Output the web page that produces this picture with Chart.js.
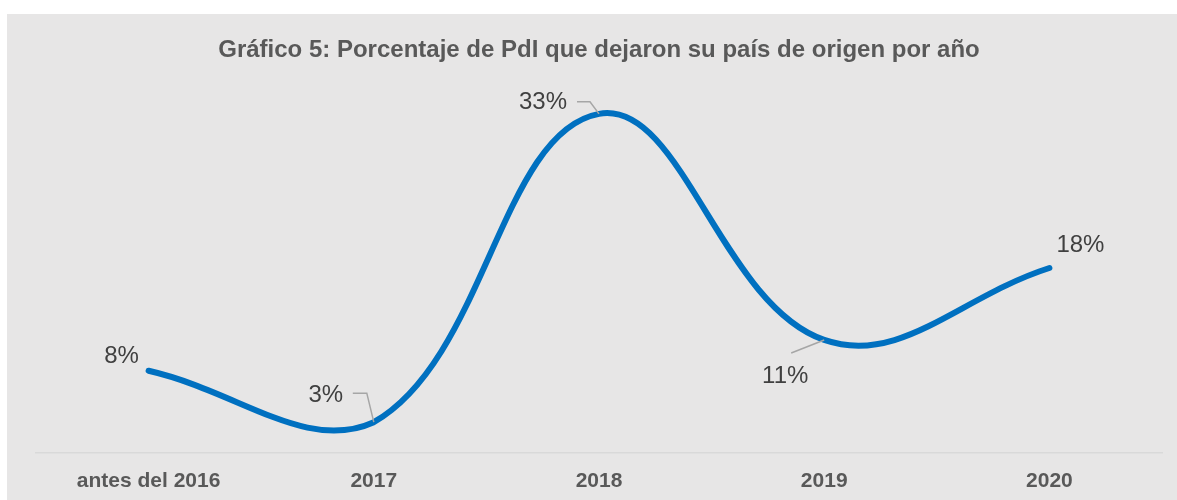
<!DOCTYPE html>
<html>
<head>
<meta charset="utf-8">
<script src="https://cdn.jsdelivr.net/npm/chart.js@4"></script>
<style>
  body { margin: 0; background: #ffffff; }
  #box { position: absolute; left: 7px; top: 14px; width: 1170px; height: 486px; background: #e7e6e6; }
  canvas { display: block; }
</style>
</head>
<body>
<div id="box"><canvas id="chart" width="1170" height="486"></canvas></div>
<script>
// Chart data
const categories = ['antes del 2016', '2017', '2018', '2019', '2020'];
const percentages = [8, 3, 33, 11, 18];
const valueLabels = ['8%', '3%', '33%', '11%', '18%'];

// label offsets from the point, and optional leader lines (px)
const labelOffsets = [[-27, -14], [-48, -27], [-56, -11], [-39, 36], [31, -23]];
const leaders = [null, [[-21, -29], [-7, -29], [0, 0]], [[-22, -12], [-9, -12], [0, 0]], [[-33, 13], [0, 0]], null];

const dataLabels = {
    id: 'dataLabels',
    afterDatasetsDraw(chart) {
        const ctx = chart.ctx;
        const pts = chart.getDatasetMeta(0).data;
        ctx.save();
        pts.forEach((p, i) => {
            const lead = leaders[i];
            if (lead) {
                ctx.strokeStyle = '#a6a6a6';
                ctx.lineWidth = 1.5;
                ctx.beginPath();
                lead.forEach(([dx, dy], k) => {
                    if (k === 0) ctx.moveTo(p.x + dx, p.y + dy);
                    else ctx.lineTo(p.x + dx, p.y + dy);
                });
                ctx.stroke();
            }
            ctx.fillStyle = '#404040';
            ctx.font = '24px "Liberation Sans", Arial, sans-serif';
            ctx.textAlign = 'center';
            ctx.textBaseline = 'middle';
            ctx.fillText(valueLabels[i], p.x + labelOffsets[i][0], p.y + labelOffsets[i][1]);
        });
        ctx.restore();
    }
};

new Chart(document.getElementById('chart'), {
    type: 'line',
    data: {
        labels: categories,
        datasets: [{
            data: percentages,
            borderColor: '#0070c0',
            borderWidth: 6,
            borderCapStyle: 'round',
            tension: 0.4,
            pointRadius: 0,
            fill: false,
            clip: false
        }]
    },
    options: {
        responsive: false,
        animation: false,
        layout: {
            padding: { left: 29, right: 15, top: 0, bottom: 0 }
        },
        plugins: {
            legend: { display: false },
            tooltip: { enabled: false },
            title: {
                display: true,
                text: 'Gráfico 5: Porcentaje de PdI que dejaron su país de origen por año',
                color: '#595959',
                font: { family: '"Liberation Sans", Arial, sans-serif', size: 24, weight: 'bold', lineHeight: 1.2 },
                padding: { top: 21.6, bottom: 18.6 }
            }
        },
        scales: {
            x: {
                offset: true,
                grid: { display: false, drawTicks: false },
                border: { display: true, color: '#d9d9d9', width: 1.5 },
                ticks: {
                    color: '#595959',
                    padding: 15.4,
                    font: { family: '"Liberation Sans", Arial, sans-serif', size: 21, weight: 'bold', lineHeight: 1.2 },
                    maxRotation: 0
                },
                afterFit(scale) { scale.height = 47; }
            },
            y: {
                display: false,
                min: 0,
                max: 36
            }
        }
    },
    plugins: [dataLabels]
});
</script>
</body>
</html>
